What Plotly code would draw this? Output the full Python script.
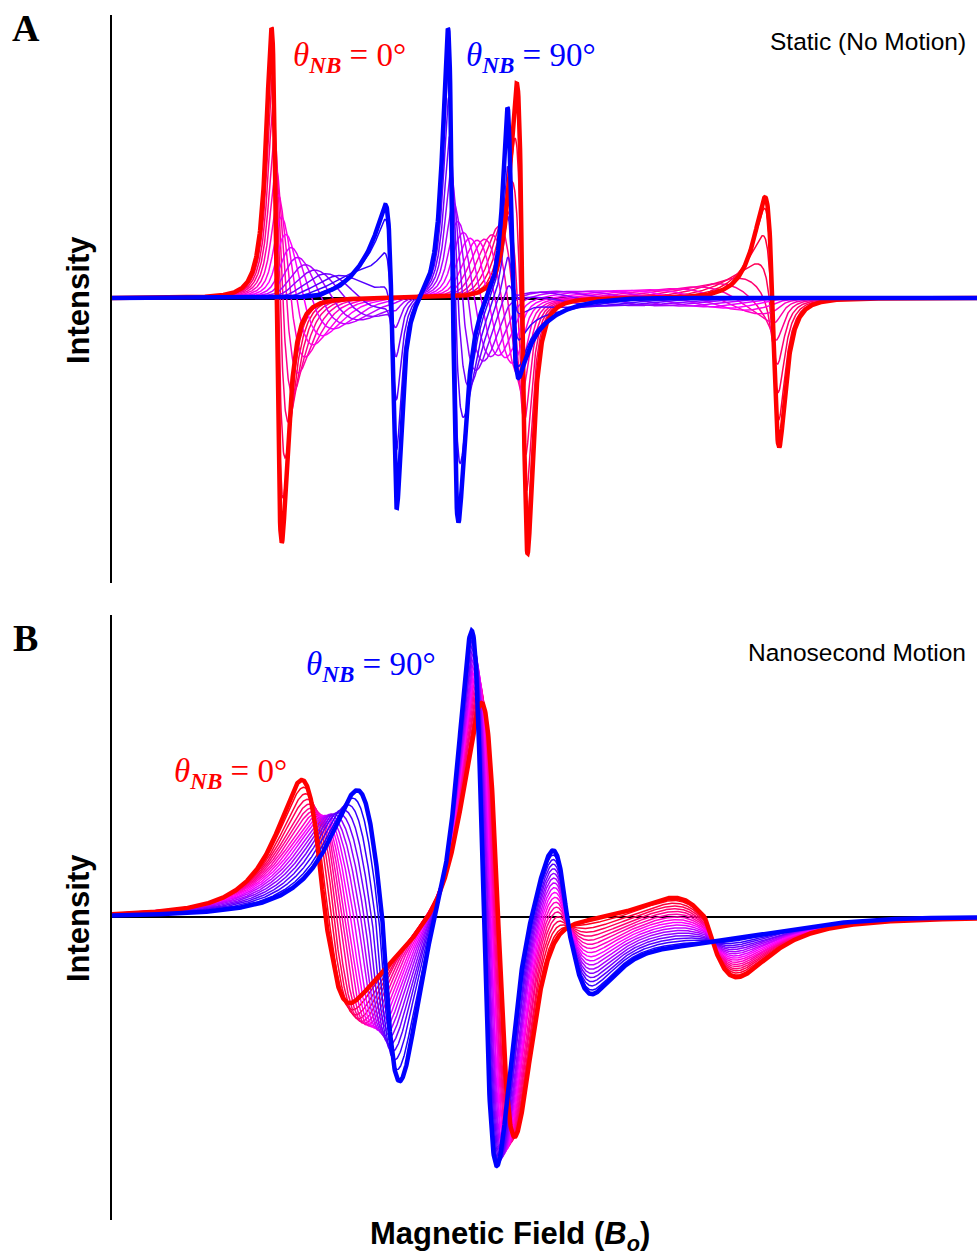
import numpy as np
import plotly.graph_objects as go

# ---------------- values ----------------
# orientation of the nitroxide N-B axis for each simulated spectrum (deg)
THETA_DEG = [0, 5, 10, 15, 20, 25, 30, 35, 40, 45, 50, 55, 60, 65, 70, 75, 80, 85, 90]

FIELD_RANGE = [3320.0, 3428.1]          # magnetic field window (G), no ticks shown

# ---- Panel A - static: resonance fields of the three 14N hyperfine lines (G)
A_LINES_0 = [3340.4, 3371.5, 3402.9]     # theta_NB = 0 deg
A_LINES_90 = [3355.3, 3362.4, 3369.7]    # theta_NB = 90 deg
A_WIDTH_0 = [1.0, 1.0, 1.2]              # intrinsic half widths at 0 deg (G)
A_WIDTH_90 = [0.84, 0.97, 0.82]          # intrinsic half widths at 90 deg (G)
A_SPREAD_DEG = 11.0                      # orientational spread around each theta
A_PEAK = 270                             # tallest red lobe (display units)
A_YRANGE = [-285, 283]

# ---- Panel B - nanosecond motion: first-derivative components read at 0 and 90 deg
# components: low-field line, centre line, high-field line (0 deg),
#             high-field line (90 deg), broad high-field tail (90 deg), low-field shoulder (0 deg)
B_CENTER_0 = [3346.6, 3368.25, 3394.1, 3376.9, 3381.0, 3347.25]
B_CENTER_90 = [3353.75, 3366.4, 3394.1, 3376.9, 3381.0, 3347.25]
B_WLEFT_0 = [5.0, 3.2, 5.6, 2.5, 1.0, 1.0]
B_WLEFT_90 = [5.4, 2.25, 5.6, 2.5, 1.0, 1.0]
B_WRIGHT_0 = [3.0, 2.9, 6.9, 5.4, 15.0, 6.6]
B_WRIGHT_90 = [3.0, 2.4, 6.9, 5.4, 15.0, 6.6]
B_LOBE_L_0 = [136, 215, 20, 0, 0, 0]
B_LOBE_L_90 = [125, 289, 0, 74, 0, 0]
B_LOBE_R_0 = [-58, -220, -60, 0, 0, -55]
B_LOBE_R_90 = [-170, -249, 0, -75, -20, 0]
B_ETA_L = [1.0, 0.7, 0.5, 0.4, 0.0, 0.0]    # Lorentzian fraction, low-field side
B_ETA_R = [0.4, 0.5, 1.0, 1.0, 0.0, 0.0]    # Lorentzian fraction, high-field side
B_MID_BROADEN = [0.3, 0.0, 0.0, 0.0, 0.0, 0.0]
B_YRANGE = [-303, 302]

LABELS = {
    "A": "<b>A</b>", "B": "<b>B</b>",
    "A_title": "Static (No Motion)", "B_title": "Nanosecond Motion",
    "y": "<b>Intensity</b>",
    "x": "<b>Magnetic Field (<i>B</i><sub><i>o</i></sub>)</b>",
}

W, H = 977, 1258


def dlor(d, gam):
    return -2 * d * gam / (np.pi * (d ** 2 + gam ** 2) ** 2)


def spectrum_a(theta, x):
    l0, l90 = A_LINES_0, A_LINES_90
    c0, c90 = l0[1], l90[1]
    alo0, ahi0 = l0[1] - l0[0], l0[2] - l0[1]
    alo90, ahi90 = l90[1] - l90[0], l90[2] - l90[1]
    u = np.linspace(-3, 3, 121)
    th = np.radians(theta + A_SPREAD_DEG * u)
    wt = np.exp(-u ** 2 / 2)
    wt /= wt.sum()
    c2 = np.cos(th) ** 2
    c = c90 + (c0 - c90) * c2
    alo = np.sqrt(alo0 ** 2 * c2 + alo90 ** 2 * (1 - c2))
    ahi = np.sqrt(ahi0 ** 2 * c2 + ahi90 ** 2 * (1 - c2))
    cn = np.cos(np.radians(theta)) ** 2
    y = np.zeros_like(x)
    for m, pos in enumerate([c - alo, c, c + ahi]):
        g = A_WIDTH_90[m] + (A_WIDTH_0[m] - A_WIDTH_90[m]) * cn
        d = x[None, :] - pos[:, None]
        y += (wt[:, None] * dlor(d, g)).sum(0)
    return y


def fshape(u, eta):
    return eta * 2 * u / (1 + u ** 2) ** 2 + (1 - eta) * 2 * np.log(2) * u * np.exp(-np.log(2) * u ** 2)


_ug = np.linspace(0, 5, 5001)


def fmax(eta):
    return fshape(_ug, eta).max()


def spectrum_b(theta, x):
    t = theta / 90.0
    lin = lambda a, b: a + (b - a) * t
    y = np.zeros_like(x)
    for m in range(len(B_CENTER_0)):
        k = 1 + B_MID_BROADEN[m] * np.sin(np.pi * t)
        c = lin(B_CENTER_0[m], B_CENTER_90[m])
        gl = lin(B_WLEFT_0[m], B_WLEFT_90[m]) * k
        gr = lin(B_WRIGHT_0[m], B_WRIGHT_90[m]) * k
        al = lin(B_LOBE_L_0[m], B_LOBE_L_90[m]) / k
        ar = lin(B_LOBE_R_0[m], B_LOBE_R_90[m]) / k
        d = x - c
        left = al * fshape(np.clip(-d, 0, None) / gl, B_ETA_L[m]) / fmax(B_ETA_L[m])
        right = ar * fshape(np.clip(d, 0, None) / gr, B_ETA_R[m]) / fmax(B_ETA_R[m])
        y += np.where(d < 0, left, right)
    return y


def colour(theta):
    t = theta / 90.0
    r = int(round(255 * min(1.0, 2 * (1 - t))))
    b = int(round(255 * min(1.0, 2 * t)))
    return f"rgb({r},0,{b})"


x = np.linspace(FIELD_RANGE[0], FIELD_RANGE[1], 2600)

fig = go.Figure()

specA = [spectrum_a(t, x) for t in THETA_DEG]
scaleA = A_PEAK / specA[0].max()
specA = [s * scaleA for s in specA]
specB = [spectrum_b(t, x) for t in THETA_DEG]

n = len(THETA_DEG)
order = list(range(1, n - 1)) + [0, n - 1]
for xa, ya, specs in (("x", "y", specA), ("x2", "y2", specB)):
    for i in order:
        thick = i in (0, n - 1)
        fig.add_trace(go.Scatter(
            x=x, y=specs[i], mode="lines", xaxis=xa, yaxis=ya,
            line=dict(color=colour(THETA_DEG[i]), width=4.5 if thick else 1.5),
            showlegend=False, hoverinfo="skip"))

dom_x = [112 / W, 1.0]
yA = [1 - 583 / H, 1 - 15 / H]
yB = [1 - 1220 / H, 1 - 615 / H]

axis_x = dict(range=FIELD_RANGE, showline=False, showticklabels=False, ticks="",
              showgrid=False, zeroline=False, domain=dom_x)
fig.update_layout(
    width=W, height=H, margin=dict(l=0, r=0, t=0, b=0),
    paper_bgcolor="white", plot_bgcolor="white",
    xaxis=dict(axis_x, anchor="y"),
    xaxis2=dict(axis_x, anchor="y2"),
    yaxis=dict(range=A_YRANGE, domain=yA, showline=True, linecolor="black", linewidth=1.5,
               showticklabels=False, ticks="", showgrid=False, zeroline=True,
               zerolinecolor="black", zerolinewidth=2.5, layer="above traces", anchor="x"),
    yaxis2=dict(range=B_YRANGE, domain=yB, showline=True, linecolor="black", linewidth=1.5,
                showticklabels=False, ticks="", showgrid=False, zeroline=True,
                zerolinecolor="black", zerolinewidth=2, layer="above traces", anchor="x2"),
)


def px(xp, yp):
    return xp / W, 1 - yp / H


serif = "Liberation Serif, Times New Roman, serif"
sans = "Liberation Sans, Arial, sans-serif"
ann = []


def add(text, xp, yp, size, family, color="black", xanchor="center", angle=0):
    xx, yy = px(xp, yp)
    ann.append(dict(text=text, x=xx, y=yy, xref="paper", yref="paper", showarrow=False,
                    xanchor=xanchor, yanchor="middle", textangle=angle,
                    font=dict(size=size, family=family, color=color)))


add(LABELS["A"], 26, 28, 38, serif)
add(LABELS["B"], 25, 638, 38, serif)
add(LABELS["A_title"], 968, 41, 24.5, sans, xanchor="right")
add(LABELS["B_title"], 968, 652, 24.5, sans, xanchor="right")
add(LABELS["y"], 78, 300, 31, sans, angle=-90)
add(LABELS["y"], 78, 918, 31, sans, angle=-90)
add(LABELS["x"], 510, 1236, 31, sans)

th_lbl = "<i>θ</i><sub><b><i>NB</i></b></sub> = {}°"
add(th_lbl.format(0), 291, 58, 33, serif, "red", "left")
add(th_lbl.format(90), 464, 58, 33, serif, "blue", "left")
add(th_lbl.format(90), 304, 667, 33, serif, "blue", "left")
add(th_lbl.format(0), 172, 773, 33, serif, "red", "left")

fig.update_layout(annotations=ann)
fig.write_html("out.html")
